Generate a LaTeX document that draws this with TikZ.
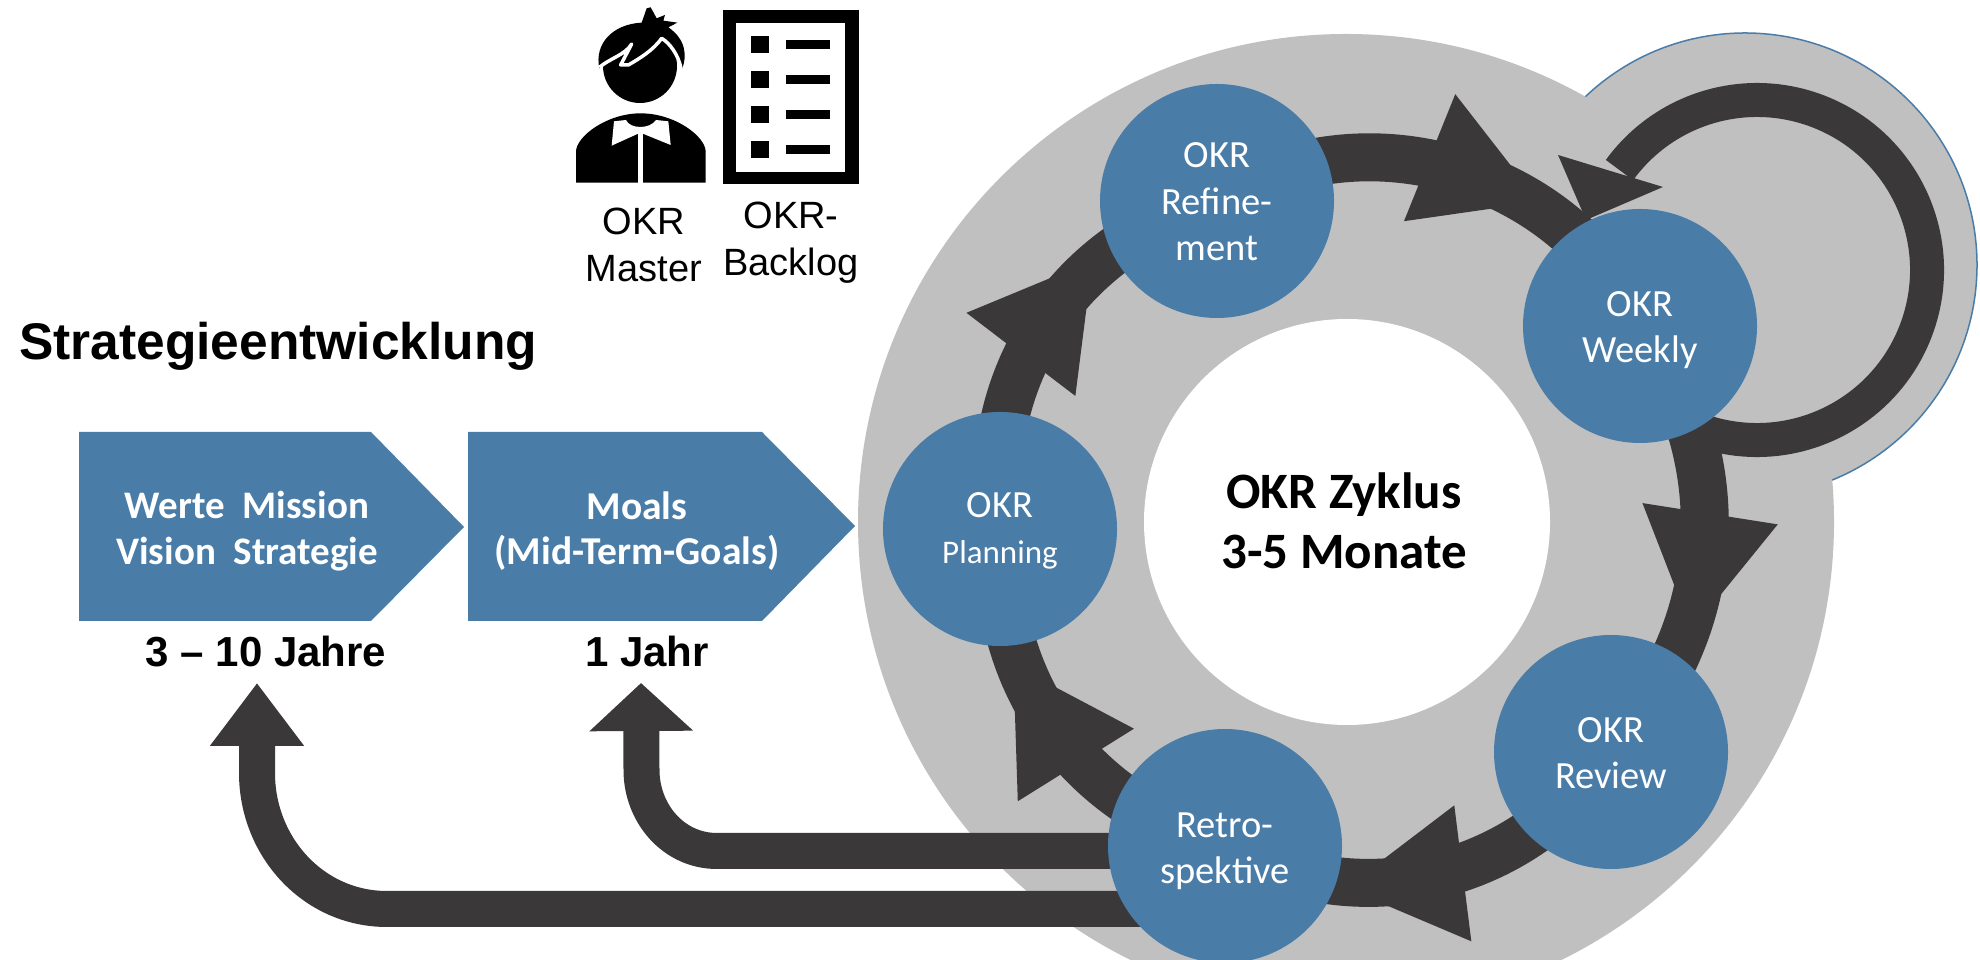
\documentclass[tikz,border=0pt]{standalone}
\usepackage{fontspec}
\setmainfont{Liberation Sans}
\newfontfamily\carl{Carlito}
\usetikzlibrary{arrows.meta,calc,decorations.markings}
\definecolor{okrblue}{RGB}{74,124,168}
\definecolor{okrgrey}{RGB}{192,192,192}
\definecolor{okrdark}{RGB}{59,56,57}
\pgfdeclarelayer{disks}
\pgfdeclarelayer{links}
\pgfsetlayers{disks,links,main}
\newcommand{\drop}[1]{\rule{0pt}{#1pt}}
\tikzset{
  x=1pt,y=1pt,
  stage/.style={circle,fill=okrblue,text=white,minimum size=234pt,inner sep=0pt,align=center,
    font=\carl\fontsize{38.5}{46.5}\selectfont},
  pentlabel/.style={text=white,align=center,inner sep=0pt,font=\carl\bfseries\fontsize{39}{45.5}\selectfont},
  timelabel/.style={anchor=base,inner sep=0pt,font=\bfseries\fontsize{42}{48}\selectfont},
  iconlabel/.style={align=center,inner sep=0pt,font=\fontsize{38}{47}\selectfont},
  ringlink/.style={draw=okrdark,line width=48pt},
  backlink/.style={draw=okrdark,line width=36pt},
  headat/.style={decoration={markings,mark=at position #1 with {
    \fill[okrdark] (-59pt,68.5pt)--(59pt,0pt)--(-59pt,-68.5pt)--cycle;}},postaction={decorate}},
}
\begin{document}
\begin{tikzpicture}
\useasboundingbox (0,0) rectangle (1980,960);
\clip (0,0) rectangle (1980,960);

% stages
\node[circle,fill=white,minimum size=406pt,inner sep=0pt] (hole) at (1347,438) {};
\node[align=center,inner sep=0pt,font=\carl\bfseries\fontsize{51}{60.5}\selectfont] (zyklus) at (1344,439) {OKR Zyklus\\3-5 Monate};
\node[stage] (planning) at (1000,431) {\drop{29}OKR\\{\fontsize{33}{46.5}\selectfont Planning}};
\node[stage] (refinement) at (1217,759) {\drop{27}OKR\\Refine-\\ment};
\node[stage] (weekly) at (1640,634) {\drop{33}OKR\\Weekly};
\node[stage] (review) at (1611,208) {\drop{27}OKR\\Review};
\node[stage] (retro) at (1225,114) {\drop{35}Retro-\\spektive};

\begin{pgfonlayer}{disks}
  \fill[white] (0,0) rectangle (1980,960);
  \node[circle,fill=okrgrey,draw=okrblue,line width=1.5pt,minimum size=464pt,inner sep=0pt] (loopdisk) at (1745,695) {};
  \node[circle,fill=okrgrey,minimum size=976pt,inner sep=0pt] (ringdisk) at (1346,438) {};
\end{pgfonlayer}

\begin{pgfonlayer}{links}
  \draw[ringlink,headat=.545] (planning.center) to[bend left=41] (refinement.center);
  \draw[ringlink,headat=.56] (refinement.center) to[bend left=49] (weekly.center);
  \draw[ringlink,headat=.56] (weekly.center) to[bend left=39] (review.center);
  \draw[ringlink,headat=.575] (review.center) to[bend left=42] (retro.center);
  \draw[ringlink,headat=.54] (retro.center) to[bend left=39] (planning.center);
  % weekly self-loop
  \coordinate (loopc) at (1757,690);
  \draw[draw=okrdark,line width=34pt] (weekly.center) -- ($(loopc)+(250:170pt)$) arc[start angle=250,end angle=504,radius=170pt];
  \fill[okrdark] (1558,805) -- (1663,773) -- (1586,740) -- cycle;
  % feedback arrows
  \coordinate (tipyear) at (641,277);
  \coordinate (tipdecade) at (257,277);
  \draw[backlink,-{Triangle[width=101pt,length=48pt]}] ($(retro.center)+(0,-5)$) -- (717,109) to[out=180,in=270] (641.5,190) -- (tipyear);
  \draw[backlink,-{Triangle[width=90pt,length=63pt]}] ($(retro.center)+(0,-63)$) -- (387,51) to[out=180,in=270] (257,187) -- (tipdecade);
\end{pgfonlayer}

% strategy
\node[anchor=base west,inner sep=0pt,font=\bfseries\fontsize{51.5}{60}\selectfont] (strategy) at (19,600) {Strategieentwicklung};
\fill[okrblue] (79,528) -- (371,528) -- (464,433) -- (371,339) -- (79,339) -- cycle;
\fill[okrblue] (468,528) -- (762,528) -- (855,434) -- (762,339) -- (468,339) -- cycle;
\node[pentlabel] (values) at (247,429) {Werte\ \ Mission\\Vision\ \ Strategie};
\node[pentlabel,font=\carl\bfseries\fontsize{39.5}{45.5}\selectfont] (moals) at (637,429) {Moals\\(Mid-Term-Goals)};
\node[timelabel] (decade) at (266,293) {3 -- 10 Jahre};
\node[timelabel] (year) at (647,293) {1 Jahr};

% backlog icon
\begin{scope}[shift={(500pt,960pt)},x=.33333pt,y=-.33333pt]
  \fill[black] (669,30) rectangle (1077,553);
  \fill[white] (707,68) rectangle (1036,515);
  \foreach \t in {107,212,317,422}{
    \fill[black] (753,\t) rectangle (807,\t+53);
    \fill[black] (858,\t+14) rectangle (990,\t+41);
  }
  % person icon
  \fill[black] (228,548) -- (228,455) .. controls (228,410) and (320,340) .. (422,340)
    .. controls (525,340) and (617,410) .. (617,455) -- (617,548) -- cycle;
  \fill[white] (342,364) -- (378,360) .. controls (390,388) and (450,388) .. (468,360) -- (505,364)
    -- (512,435) -- (421,398) -- (335,437) -- cycle;
  \fill[white] (414,398) rectangle (428,548);
  \fill[black] (420,198) circle[radius=111];
  \fill[black] (298,205) .. controls (282,130) and (340,72) .. (425,68)
    -- (440,25) -- (452,22) -- (470,55) -- (495,45) -- (490,62) -- (532,68) -- (505,82)
    .. controls (560,120) and (560,170) .. (547,205) -- (480,110) -- (360,160) -- cycle;
  \draw[white,line width=3.5pt,line join=round] (298,202) .. controls (330,175) and (375,165) .. (395,132)
    -- (362,195) -- (385,195) .. controls (420,175) and (460,150) .. (485,115)
    .. controls (510,130) and (535,165) .. (543,205);
\end{scope}
\node[iconlabel] (master) at (644,715) {OKR\\Master};
\node[iconlabel] (backlog) at (791,717) {OKR-\\Backlog};
\end{tikzpicture}
\end{document}
